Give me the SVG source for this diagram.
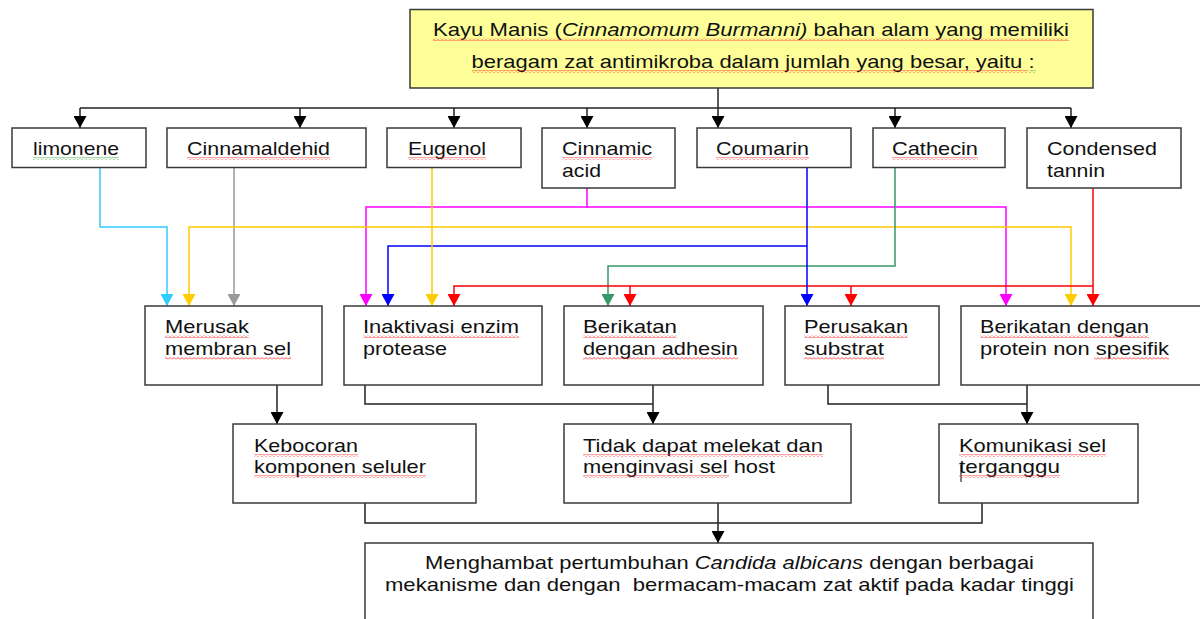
<svg xmlns="http://www.w3.org/2000/svg" width="1200" height="619" viewBox="0 0 1200 619">
<style>
.box{fill:#ffffff;stroke:#3a3a3a;stroke-width:1.5}
.top{fill:#ffff99;stroke:#3a3a3a;stroke-width:1.5}
text{font-family:"Liberation Sans",Arial,sans-serif;font-size:19px;fill:#111111}
.c{fill:none;stroke-width:1.5}
.k{stroke:#222222}
.cy{stroke:#33ccff}
.ye{stroke:#ffcc00}
.gr{stroke:#999999}
.mg{stroke:#ff00ff}
.bl{stroke:#0000ff}
.gn{stroke:#339966}
.rd{stroke:#ff0000}
.sq{fill:url(#squig)}
.sqg{fill:url(#squigG)}
</style>
<defs>
<pattern id="squig" patternUnits="userSpaceOnUse" width="4" height="3"><path d="M0,2.5 L2,0.5 L4,2.5" fill="none" stroke="#ff3030" stroke-width="0.9"/></pattern>
<pattern id="squigG" patternUnits="userSpaceOnUse" width="4" height="3"><path d="M0,2.5 L2,0.5 L4,2.5" fill="none" stroke="#44aa44" stroke-width="0.9"/></pattern>
<marker id="aK" markerUnits="userSpaceOnUse" markerWidth="13" markerHeight="13" refX="12" refY="6.5" orient="auto"><path d="M0,0 L12,6.5 L0,13 z" fill="#000000"/></marker>
<marker id="aCy" markerUnits="userSpaceOnUse" markerWidth="13" markerHeight="13" refX="12" refY="6.5" orient="auto"><path d="M0,0 L12,6.5 L0,13 z" fill="#33ccff"/></marker>
<marker id="aYe" markerUnits="userSpaceOnUse" markerWidth="13" markerHeight="13" refX="12" refY="6.5" orient="auto"><path d="M0,0 L12,6.5 L0,13 z" fill="#ffcc00"/></marker>
<marker id="aGr" markerUnits="userSpaceOnUse" markerWidth="13" markerHeight="13" refX="12" refY="6.5" orient="auto"><path d="M0,0 L12,6.5 L0,13 z" fill="#999999"/></marker>
<marker id="aMg" markerUnits="userSpaceOnUse" markerWidth="13" markerHeight="13" refX="12" refY="6.5" orient="auto"><path d="M0,0 L12,6.5 L0,13 z" fill="#ff00ff"/></marker>
<marker id="aBl" markerUnits="userSpaceOnUse" markerWidth="13" markerHeight="13" refX="12" refY="6.5" orient="auto"><path d="M0,0 L12,6.5 L0,13 z" fill="#0000ff"/></marker>
<marker id="aGn" markerUnits="userSpaceOnUse" markerWidth="13" markerHeight="13" refX="12" refY="6.5" orient="auto"><path d="M0,0 L12,6.5 L0,13 z" fill="#339966"/></marker>
<marker id="aRd" markerUnits="userSpaceOnUse" markerWidth="13" markerHeight="13" refX="12" refY="6.5" orient="auto"><path d="M0,0 L12,6.5 L0,13 z" fill="#ff0000"/></marker>
</defs>
<rect width="1200" height="619" fill="#ffffff"/>

<g id="connectors">
<path class="c k" d="M718,88 V128" marker-end="url(#aK)"/>
<path class="c k" d="M80,108 H1071"/>
<path class="c k" d="M80,108 V128" marker-end="url(#aK)"/>
<path class="c k" d="M300,108 V128" marker-end="url(#aK)"/>
<path class="c k" d="M454,108 V128" marker-end="url(#aK)"/>
<path class="c k" d="M587,108 V128" marker-end="url(#aK)"/>
<path class="c k" d="M895,108 V128" marker-end="url(#aK)"/>
<path class="c k" d="M1071,108 V128" marker-end="url(#aK)"/>
<path class="c mg" d="M587,188 V207 H366 V306" marker-end="url(#aMg)"/>
<path class="c mg" d="M587,207 H1006 V306" marker-end="url(#aMg)"/>
<path class="c cy" d="M100,167 V227 H167 V306" marker-end="url(#aCy)"/>
<path class="c gr" d="M234,167 V306" marker-end="url(#aGr)"/>
<path class="c ye" d="M432,227 H189 V306" marker-end="url(#aYe)"/>
<path class="c ye" d="M432,227 H1071 V306" marker-end="url(#aYe)"/>
<path class="c bl" d="M807,246 H388 V306" marker-end="url(#aBl)"/>
<path class="c gn" d="M895,167 V266 H608 V306" marker-end="url(#aGn)"/>
<path class="c rd" d="M1093,286 H454 V306" marker-end="url(#aRd)"/>
<path class="c rd" d="M630,286 V306" marker-end="url(#aRd)"/>
<path class="c rd" d="M851,286 V306" marker-end="url(#aRd)"/>
<path class="c rd" d="M1093,188 V306" marker-end="url(#aRd)"/>
<path class="c ye" d="M432,167 V306" marker-end="url(#aYe)"/>
<path class="c bl" d="M807,167 V306" marker-end="url(#aBl)"/>
<path class="c k" d="M277,385 V424" marker-end="url(#aK)"/>
<path class="c k" d="M365,385 V404 H653"/>
<path class="c k" d="M653,385 V424" marker-end="url(#aK)"/>
<path class="c k" d="M828,385 V404 H1027"/>
<path class="c k" d="M1027,385 V424" marker-end="url(#aK)"/>
<path class="c k" d="M365,503 V523 H982 V503"/>
<path class="c k" d="M718,503 V543" marker-end="url(#aK)"/>
</g>

<g id="n-top"><rect class="top" x="410" y="9.5" width="683" height="78.5"/>
<text x="751" y="36" text-anchor="middle" textLength="636" lengthAdjust="spacingAndGlyphs">Kayu Manis (<tspan font-style="italic">Cinnamomum Burmanni)</tspan> bahan alam yang memiliki</text>
<text x="753" y="68" text-anchor="middle" textLength="563" lengthAdjust="spacingAndGlyphs">beragam zat antimikroba dalam jumlah yang besar, yaitu :</text></g>

<g id="n-limonene"><rect class="box" x="12" y="128" width="134" height="39.5"/><text x="33" y="155" textLength="86" lengthAdjust="spacingAndGlyphs">limonene</text></g>
<g id="n-cinnamaldehid"><rect class="box" x="167" y="128" width="199" height="39.5"/><text x="187" y="155" textLength="143" lengthAdjust="spacingAndGlyphs">Cinnamaldehid</text></g>
<g id="n-eugenol"><rect class="box" x="387" y="128" width="134" height="39.5"/><text x="408" y="155" textLength="78" lengthAdjust="spacingAndGlyphs">Eugenol</text></g>
<g id="n-cinnamic"><rect class="box" x="542" y="128" width="133" height="60"/><text x="562" y="155" textLength="90" lengthAdjust="spacingAndGlyphs">Cinnamic</text><text x="562" y="177" textLength="39" lengthAdjust="spacingAndGlyphs">acid</text></g>
<g id="n-coumarin"><rect class="box" x="697" y="128" width="154" height="39.5"/><text x="716" y="155" textLength="93" lengthAdjust="spacingAndGlyphs">Coumarin</text></g>
<g id="n-cathecin"><rect class="box" x="873" y="128" width="132" height="39.5"/><text x="892" y="155" textLength="86" lengthAdjust="spacingAndGlyphs">Cathecin</text></g>
<g id="n-tannin"><rect class="box" x="1027" y="128" width="154" height="60"/><text x="1047" y="155" textLength="110" lengthAdjust="spacingAndGlyphs">Condensed</text><text x="1047" y="177" textLength="58" lengthAdjust="spacingAndGlyphs">tannin</text></g>

<g id="n-merusak"><rect class="box" x="145" y="306" width="177" height="79"/><text x="165" y="333" textLength="84" lengthAdjust="spacingAndGlyphs">Merusak</text><text x="165" y="355" textLength="126" lengthAdjust="spacingAndGlyphs">membran sel</text></g>
<g id="n-inaktivasi"><rect class="box" x="344" y="306" width="198" height="79"/><text x="363" y="333" textLength="156" lengthAdjust="spacingAndGlyphs">Inaktivasi enzim</text><text x="363" y="355" textLength="84" lengthAdjust="spacingAndGlyphs">protease</text></g>
<g id="n-adhesin"><rect class="box" x="564" y="306" width="199" height="79"/><text x="583" y="333" textLength="94" lengthAdjust="spacingAndGlyphs">Berikatan</text><text x="583" y="355" textLength="155" lengthAdjust="spacingAndGlyphs">dengan adhesin</text></g>
<g id="n-perusakan"><rect class="box" x="785" y="306" width="154" height="79"/><text x="804" y="333" textLength="104" lengthAdjust="spacingAndGlyphs">Perusakan</text><text x="804" y="355" textLength="80" lengthAdjust="spacingAndGlyphs">substrat</text></g>
<g id="n-protein"><rect class="box" x="961" y="306" width="240" height="79"/><text x="980" y="333" textLength="169" lengthAdjust="spacingAndGlyphs">Berikatan dengan</text><text x="980" y="355" textLength="189" lengthAdjust="spacingAndGlyphs">protein non spesifik</text></g>

<g id="n-kebocoran"><rect class="box" x="233" y="424" width="243" height="79"/><text x="254" y="452" textLength="104" lengthAdjust="spacingAndGlyphs">Kebocoran</text><text x="254" y="473" textLength="172" lengthAdjust="spacingAndGlyphs">komponen seluler</text></g>
<g id="n-tidak"><rect class="box" x="564" y="424" width="287" height="79"/><text x="583" y="452" textLength="240" lengthAdjust="spacingAndGlyphs">Tidak dapat melekat dan</text><text x="583" y="473" textLength="192" lengthAdjust="spacingAndGlyphs">menginvasi sel host</text></g>
<g id="n-komunikasi"><rect class="box" x="939" y="424" width="199" height="79"/><text x="959" y="452" textLength="147" lengthAdjust="spacingAndGlyphs">Komunikasi sel</text><text x="959" y="473" textLength="101" lengthAdjust="spacingAndGlyphs">terganggu</text><line x1="961" y1="465" x2="961" y2="482" stroke="#000" stroke-width="1"/></g>

<g id="n-final"><rect class="box" x="365" y="543" width="728" height="100"/>
<text x="729.5" y="569" text-anchor="middle" textLength="609" lengthAdjust="spacingAndGlyphs">Menghambat pertumbuhan <tspan font-style="italic">Candida albicans</tspan> dengan berbagai</text>
<text x="729.5" y="591" text-anchor="middle" textLength="689" lengthAdjust="spacingAndGlyphs" xml:space="preserve">mekanisme dan dengan  bermacam-macam zat aktif pada kadar tinggi</text></g>

<g id="spellcheck">
<rect class="sq" x="433" y="38" width="636" height="3"/>
<rect class="sq" x="472" y="70" width="556" height="3"/>
<rect class="sqg" x="1029" y="70" width="7" height="3"/>
<rect class="sqg" x="33" y="157" width="86" height="3"/>
<rect class="sq" x="187" y="157" width="143" height="3"/>
<rect class="sq" x="408" y="157" width="78" height="3"/>
<rect class="sq" x="562" y="157" width="90" height="3"/>
<rect class="sq" x="716" y="157" width="93" height="3"/>
<rect class="sq" x="892" y="157" width="86" height="3"/>
<rect class="sq" x="165" y="335" width="84" height="3"/>
<rect class="sq" x="165" y="357" width="126" height="3"/>
<rect class="sq" x="363" y="335" width="156" height="3"/>
<rect class="sq" x="583" y="335" width="94" height="3"/>
<rect class="sq" x="583" y="357" width="155" height="3"/>
<rect class="sq" x="804" y="335" width="104" height="3"/>
<rect class="sq" x="804" y="357" width="80" height="3"/>
<rect class="sq" x="980" y="335" width="169" height="3"/>
<rect class="sq" x="1094" y="357" width="75" height="3"/>
<rect class="sq" x="254" y="454" width="104" height="3"/>
<rect class="sq" x="254" y="475" width="172" height="3"/>
<rect class="sq" x="583" y="454" width="240" height="3"/>
<rect class="sq" x="583" y="475" width="146" height="3"/>
<rect class="sq" x="959" y="454" width="147" height="3"/>
<rect class="sq" x="959" y="475" width="101" height="3"/>
</g>
</svg>
